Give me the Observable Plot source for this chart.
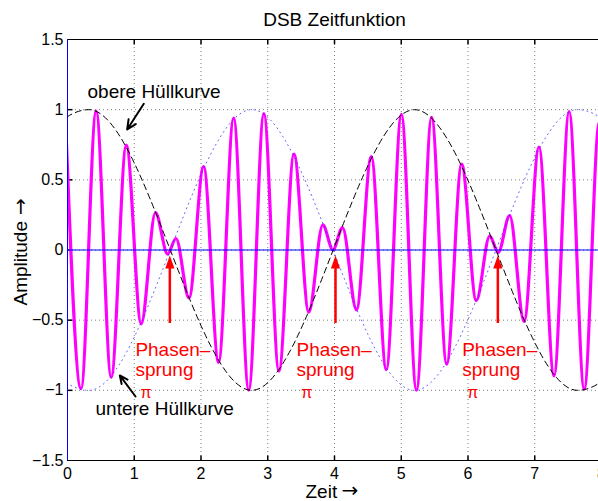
<!DOCTYPE html>
<html><head><meta charset="utf-8">
<script src="https://cdn.jsdelivr.net/npm/d3@7"></script>
<script src="https://cdn.jsdelivr.net/npm/@observablehq/plot@0.6"></script>
<style>
html,body{margin:0;padding:0;background:#fff;overflow:hidden;width:598px;height:501px}
svg{max-width:none !important;display:block}
</style></head><body><div id="chart"></div>
<script>
// ---- texts ----
const title = "DSB Zeitfunktion";
const xLabel = "Zeit";
const yLabel = "Amplitude";
const labelArrow = "\u2192";
// ---- ticks ----
const xTicks = [0, 1, 2, 3, 4, 5, 6, 7, 8];
const yTicks = [-1.5, -1, -0.5, 0, 0.5, 1, 1.5];
const gridX = [1, 2, 3, 4, 5, 6, 7];
const gridY = [-1, -0.5, 0, 0.5, 1];
// ---- DSB signal: local maxima / minima ----
const sigT = [-0.027, 0.203, 0.429, 0.655, 0.881, 1.104, 1.318, 1.500, 1.625, 1.820,
              2.039, 2.263, 2.489, 2.715, 2.942, 3.168, 3.393, 3.615, 3.825, 3.976,
              4.120, 4.329, 4.551, 4.776, 5.002, 5.228, 5.455, 5.681, 5.905, 6.124,
              6.325, 6.452, 6.624, 6.840, 7.063, 7.288, 7.515, 7.741, 7.967, 8.193];
const sigA = [0.902, -0.988, 0.990, -0.907, 0.748, -0.526, 0.266, -0.028, 0.082, -0.342,
              0.594, -0.801, 0.940, -0.998, 0.972, -0.864, 0.683, -0.443, 0.179, 0.000,
              0.160, -0.426, 0.666, -0.853, 0.967, -0.999, 0.946, -0.813, 0.612, -0.361,
              0.099, -0.018, 0.245, -0.508, 0.734, -0.898, 0.987, -0.992, 0.910, -0.755];
// ---- envelopes: extrema ----
const envT = [-2.12, 0.32, 2.76, 5.20, 7.64, 10.08];
const upperA = [-1, 1, -1, 1, -1, 1];
const lowerA = [1, -1, 1, -1, 1, -1];
// ---- phase jumps (red arrows) ----
const jumpT = [1.533, 4.015, 6.447];
const jumpFrom = -0.524, jumpShaftTop = -0.11, jumpTip = -0.039;
const jumpLabel1 = "Phasen\u2013", jumpLabel2 = "sprung", jumpLabel3 = "\u03c0";
const jumpLabelT = [1.017, 3.431, 5.913];
const jumpPiT = [1.094, 3.501, 5.988];
const jumpLabelY = [-0.752, -0.901, -1.052];
// ---- envelope annotations ----
const hullText = ["obere H\u00fcllkurve", "untere H\u00fcllkurve"];
const hullTextT = [0.30, 0.42];
const hullTextY = [1.082, -1.179];
const hullArrowFrom = [[1.143, 1.042], [1.019, -1.044]];
const hullArrowTo = [[0.894, 0.859], [0.784, -0.894]];

const sig = sigT.map((t, i) => ({t, a: sigA[i]}));
const upper = envT.map((t, i) => ({t, a: upperA[i]}));
const lower = envT.map((t, i) => ({t, a: lowerA[i]}));
const jumpLabels = jumpT.map((t, i) => ({lx: jumpLabelT[i], px: jumpPiT[i]}));
const hull = hullText.map((s, i) => ({s, t: hullTextT[i], y: hullTextY[i],
  x1: hullArrowFrom[i][0], y1: hullArrowFrom[i][1], x2: hullArrowTo[i][0], y2: hullArrowTo[i][1]}));

const headUp = {draw(ctx) { ctx.moveTo(0, 0); ctx.lineTo(-4.6, 13); ctx.lineTo(4.6, 13); ctx.closePath(); }};
const tickUp = {draw(ctx) { ctx.moveTo(0, 0); ctx.lineTo(0, -5); }};
const tickDown = {draw(ctx) { ctx.moveTo(0, 0); ctx.lineTo(0, 5); }};
const tickRight = {draw(ctx) { ctx.moveTo(0, 0); ctx.lineTo(5, 0); }};

const font = "'Liberation Sans', Arial, Helvetica, sans-serif";
const arrowFont = "'DejaVu Sans', sans-serif";
const big = 19;

const chart = Plot.plot({
  width: 602, height: 501,
  marginLeft: 67, marginRight: 1, marginTop: 39, marginBottom: 41,
  style: {fontFamily: font, fontSize: "16px", background: "#fff", maxWidth: "none", color: "#000"},
  x: {domain: [0, 8], ticks: xTicks, tickFormat: d3.format("d"), tickSize: 0, tickPadding: 7, label: null},
  y: {domain: [-1.5, 1.5], ticks: yTicks, tickFormat: d3.format("~g"), tickSize: 0, tickPadding: 4, label: null},
  marks: [
    Plot.ruleX(gridX, {stroke: "#000", strokeOpacity: 0.5, strokeDasharray: "1,3"}),
    Plot.ruleY(gridY, {stroke: "#000", strokeOpacity: 0.5, strokeDasharray: "1,3"}),
    Plot.dot(gridX, {x: d => d, y: -1.5, symbol: tickUp, stroke: "#000", fill: "none"}),
    Plot.dot(gridX, {x: d => d, y: 1.5, symbol: tickDown, stroke: "#000", fill: "none"}),
    Plot.dot(gridY, {x: 0, y: d => d, symbol: tickRight, stroke: "#000", fill: "none"}),
    Plot.line(sig, {x: "t", y: "a", curve: "monotone-x", stroke: "#ff00ff", strokeWidth: 3.2, clip: true}),
    Plot.line(upper, {x: "t", y: "a", curve: "monotone-x", stroke: "#000", strokeWidth: 1, strokeDasharray: "6,4", clip: true}),
    Plot.line(lower, {x: "t", y: "a", curve: "monotone-x", stroke: "#3333ff", strokeWidth: 1, strokeOpacity: 0.8, strokeDasharray: "1,4", clip: true}),
    Plot.frame({stroke: "#000"}),
    Plot.ruleY([0], {stroke: "#0000ff", strokeWidth: 1}),
    Plot.ruleX([0], {stroke: "#0000ff", strokeWidth: 1}),
    Plot.ruleX(jumpT, {x: d => d, y1: jumpFrom, y2: jumpShaftTop, stroke: "#ff0000", strokeWidth: 2.5}),
    Plot.dot(jumpT, {x: d => d, y: jumpTip, symbol: headUp, fill: "#ff0000", stroke: "none"}),
    Plot.text(jumpLabels, {x: "lx", y: jumpLabelY[0], text: () => jumpLabel1, textAnchor: "start", lineAnchor: "bottom", fill: "#ff0000", fontSize: big}),
    Plot.text(jumpLabels, {x: "lx", y: jumpLabelY[1], text: () => jumpLabel2, textAnchor: "start", lineAnchor: "bottom", fill: "#ff0000", fontSize: big}),
    Plot.text(jumpLabels, {x: "px", y: jumpLabelY[2], text: () => jumpLabel3, textAnchor: "start", lineAnchor: "bottom", fill: "#ff0000", fontSize: 16}),
    Plot.text(hull, {x: "t", y: "y", text: "s", textAnchor: "start", lineAnchor: "bottom", fill: "#000", fontSize: big}),
    Plot.arrow(hull, {x1: "x1", y1: "y1", x2: "x2", y2: "y2", stroke: "#000", strokeWidth: 2, headLength: 10, headAngle: 50}),
    Plot.text([title], {frameAnchor: "top", dy: -14, lineAnchor: "bottom", textAnchor: "middle", text: d => d, fontSize: big, fill: "#000"}),
    Plot.text([xLabel], {frameAnchor: "bottom", dx: -29, dy: 37, lineAnchor: "bottom", textAnchor: "start", text: d => d, fontSize: big, fill: "#000"}),
    Plot.text([labelArrow], {frameAnchor: "bottom", dx: 7, dy: 30, lineAnchor: "middle", textAnchor: "start", text: d => d, fontSize: 20, fontFamily: arrowFont, fill: "#000"}),
    Plot.text([yLabel], {frameAnchor: "left", rotate: -90, dx: -41, dy: 55.5, lineAnchor: "bottom", textAnchor: "start", text: d => d, fontSize: big, fill: "#000"}),
    Plot.text([labelArrow], {frameAnchor: "left", rotate: -90, dx: -47, dy: -35, lineAnchor: "middle", textAnchor: "start", text: d => d, fontSize: 20, fontFamily: arrowFont, fill: "#000"})
  ]
});
document.getElementById("chart").appendChild(chart);
</script>
</body></html>
